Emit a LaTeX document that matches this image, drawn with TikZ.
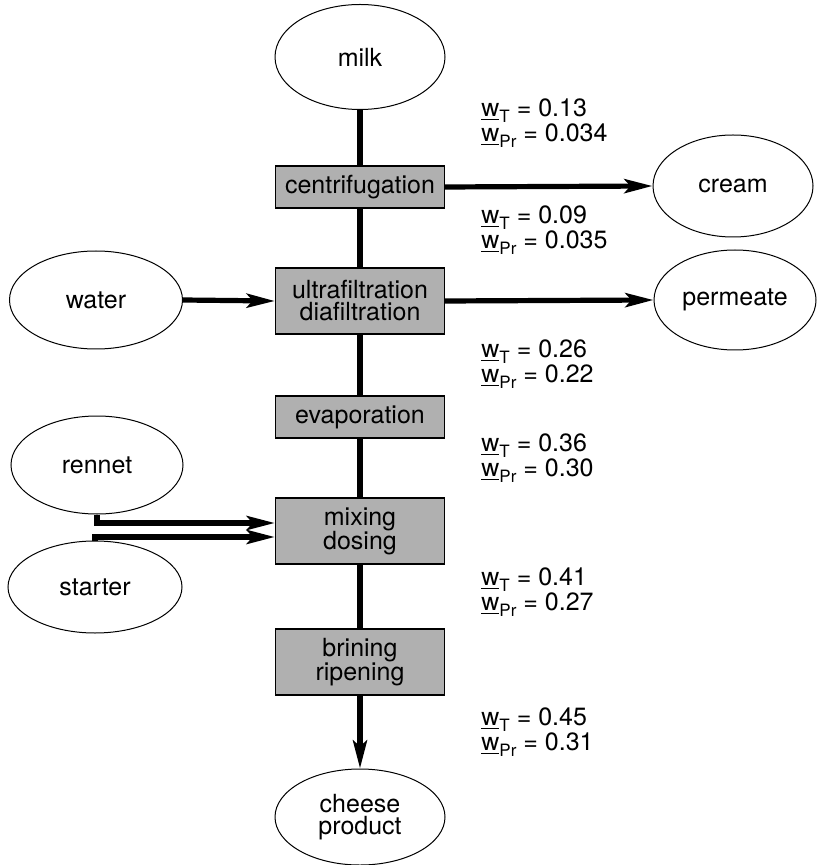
\documentclass[tikz,border=0pt]{standalone}
\usepackage{fontspec}
\setmainfont{TeX Gyre Heros}
\usetikzlibrary{shapes.geometric,arrows.meta,calc}
\definecolor{boxgray}{gray}{0.69}
% mass-fraction label: underlined w with a small subscript
\newcommand{\wfrac}[2]{\underline{w}\raisebox{-0.45ex}{\fontsize{8.5}{8.5}\selectfont #1} = #2}
\begin{document}
\begin{tikzpicture}[x=0.5pt,y=-0.5pt,
  every node/.style={font=\fontsize{12.5}{12}\selectfont},
  src/.style={draw, ellipse, line width=0.5pt, inner sep=0pt, align=center,
    minimum width=85pt, minimum height=50pt},
  proc/.style={draw, line width=0.7pt, fill=boxgray, inner sep=0pt, align=center,
    minimum width=84.5pt, minimum height=21pt},
  proc2/.style={proc, minimum height=33pt},
  flow/.style={line width=2.6pt},
  flowarrow/.style={flow, -{Stealth[length=14pt,width=7pt,inset=3pt]}},
  wlabel/.style={anchor=west, align=left, inner sep=0pt,
    font=\fontsize{12.5}{12.5}\selectfont}]
\useasboundingbox (0,0) rectangle (817,865);

% sources and products
\node[src, minimum height=52.5pt] (milk) at (360,57) {milk};
\node[src, minimum width=80pt, minimum height=51pt] (cream) at (733,186) {cream};
\node[src, minimum width=86.5pt, minimum height=49pt] (water) at (96,300) {water};
\node[src, minimum width=81pt, minimum height=50pt] (permeate) at (735,300) {permeate};
\node[src, minimum width=86pt, minimum height=49pt] (rennet) at (97,465) {rennet};
\node[src, minimum width=87pt, minimum height=46pt] (starter) at (95,587) {starter};
\node[src, minimum height=48pt] (cheese) at (360,817) {cheese\\[-1pt]product};

% process steps
\node[proc] (centri) at (360,187) {centrifugation};
\node[proc2, font=\fontsize{12.5}{11}\selectfont] (ultra) at (360,301) {ultrafiltration\\diafiltration};
\node[proc] (evap) at (360,417) {evaporation};
\node[proc2] (mixing) at (360,531) {mixing\\dosing};
\node[proc2] (brining) at (360,662) {brining\\ripening};

% main stream
\draw[flow] (milk.south) -- (centri.north);
\draw[flow] (centri.south) -- (ultra.north);
\draw[flow] (ultra.south) -- (evap.north);
\draw[flow] (evap.south) -- (mixing.north);
\draw[flow] (mixing.south) -- (brining.north);
\draw[flowarrow] (brining.south) -- (cheese.north);

% side streams
\draw[flowarrow] (centri.east) -- (cream.west);
\draw[flowarrow] (water.east) -- (ultra.west);
\draw[flowarrow] (ultra.east) -- (permeate.west);
\draw[flowarrow] (rennet.south) |- ($(mixing.west)+(0,-8)$);
\draw[flowarrow] (starter.north) |- ($(mixing.west)+(0,6)$);

% mass fractions along the stream
\node[wlabel] (l1) at (481,123) {\wfrac{T}{0.13}\\\wfrac{Pr}{0.034}};
\node[wlabel] (l2) at (481,230) {\wfrac{T}{0.09}\\\wfrac{Pr}{0.035}};
\node[wlabel] (l3) at (481,364) {\wfrac{T}{0.26}\\\wfrac{Pr}{0.22}};
\node[wlabel] (l4) at (481,458) {\wfrac{T}{0.36}\\\wfrac{Pr}{0.30}};
\node[wlabel] (l5) at (481,592) {\wfrac{T}{0.41}\\\wfrac{Pr}{0.27}};
\node[wlabel] (l6) at (481,732) {\wfrac{T}{0.45}\\\wfrac{Pr}{0.31}};
\end{tikzpicture}
\end{document}
